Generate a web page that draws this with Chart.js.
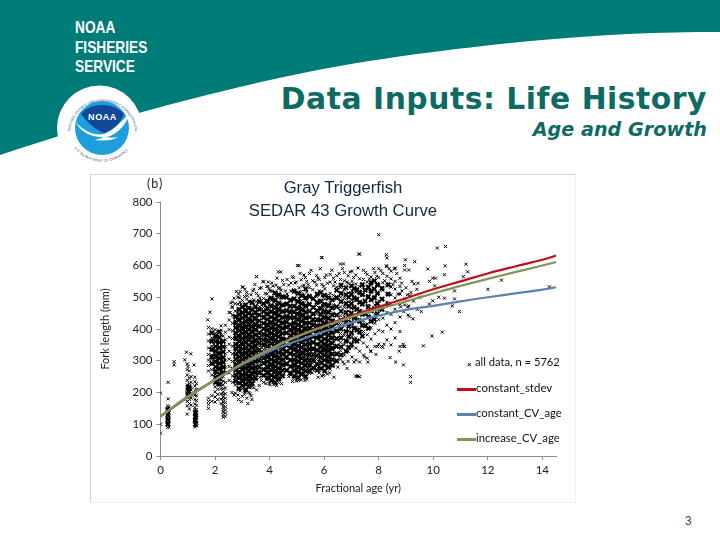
<!DOCTYPE html>
<html>
<head>
<meta charset="utf-8">
<title>Data Inputs: Life History</title>
<script src="https://cdn.jsdelivr.net/npm/chart.js@4"></script>
<style>
html, body { margin: 0; padding: 0; background: #fff; }
body { position: relative; width: 720px; height: 540px; overflow: hidden; font-family: "Liberation Sans", sans-serif; }
#banner { position: absolute; left: 0; top: 0; }
.abs { position: absolute; white-space: nowrap; }
.org { left: 75px; color: #fff; font: bold 16.5px/18px "Liberation Sans", sans-serif; transform: scaleX(0.83); transform-origin: left center; }
#panel { position: absolute; left: 90px; top: 174px; width: 486px; height: 329px; background: #fff; border-top: 1px solid #d4d4d4; border-left: 1px solid #d4d4d4; border-right: 1px solid #efefef; border-bottom: 1px solid #efefef; box-sizing: border-box; }
#myChart { position: absolute; left: 90px; top: 174px; }
.leg { font: 11.5px "Lato", sans-serif; color: #111; }
.swatch { position: absolute; left: 457px; width: 19px; height: 2.5px; }
</style>
</head>
<body>
<svg id="banner" width="720" height="175" viewBox="0 0 720 175">
  <path d="M0 0 H720 V32 C660 32 600 34 500 44 C420 53 350 62 270 80 C180 100 80 128 0 155 Z" fill="#007c78"/>
  <circle cx="99.5" cy="128" r="42.5" fill="#fff"/>
  <circle cx="102" cy="128" r="27" fill="#1e9fdc"/>
  <path d="M81 114 C90 102 114 102 124 114 C120 124 112 131 104 133 C96 130 87 122 81 114 Z" fill="#12479a"/>
  <path d="M76 122 C84 132 96 136 104 134 C112 131 122 122 129 113 C127 126 115 135 107 137 C110 138 114 138 118 137 C112 141 103 141 95 140 L104 137 C92 138 80 132 76 122 Z" fill="#fff"/>
  <text x="102.5" y="120" text-anchor="middle" font-family="Liberation Sans" font-weight="bold" font-size="9" fill="#fff" letter-spacing="0.6">NOAA</text>
  <defs>
    <path id="ringTop" d="M70 134 A32 32 0 1 1 135 134"/>
    <path id="ringBottom" d="M72 140 A33 33 0 0 0 132 140"/>
  </defs>
  <text font-family="Liberation Sans" font-size="3.4" fill="#34507a"><textPath href="#ringTop" startOffset="3%">NATIONAL OCEANIC AND ATMOSPHERIC ADMINISTRATION</textPath></text>
  <text font-family="Liberation Sans" font-size="3.4" fill="#34507a"><textPath href="#ringBottom" startOffset="10%" dominant-baseline="hanging">U.S. DEPARTMENT OF COMMERCE</textPath></text>
</svg>
<div class="abs org" style="top:18px">NOAA</div>
<div class="abs org" style="top:38px">FISHERIES</div>
<div class="abs org" style="top:57px">SERVICE</div>
<div class="abs" style="right:13px;top:81px;font:bold 29.8px 'DejaVu Sans',sans-serif;letter-spacing:0.52px;color:#0d6b63">Data Inputs: Life History</div>
<div class="abs" style="right:13px;top:118px;font:italic bold 19.2px 'DejaVu Sans',sans-serif;color:#0d6b63">Age and Growth</div>
<div id="panel"></div>
<canvas id="myChart" width="485" height="329"></canvas>
<div class="abs" style="left:147px;top:176px;font:12.5px 'Lato',sans-serif;letter-spacing:1px;color:#222">(b)</div>
<div class="abs" style="left:233px;width:220px;text-align:center;top:178px;font:16.7px 'Liberation Sans',sans-serif;color:#10293f">Gray Triggerfish</div>
<div class="abs" style="left:233px;width:220px;text-align:center;top:201px;font:16.7px 'Liberation Sans',sans-serif;color:#10293f">SEDAR 43 Growth Curve</div>
<div class="abs leg" style="left:475px;top:355px;font-size:11.2px">all data, n = 5762</div>
<div class="abs" style="left:467px;top:360px;font:bold 8px sans-serif;color:#111">×</div>
<div class="swatch" style="top:388px;background:#c00d1e"></div>
<div class="abs leg" style="left:476px;top:381px">constant_stdev</div>
<div class="swatch" style="top:413px;background:#5b82ae"></div>
<div class="abs leg" style="left:476px;top:406px;font-size:11.3px">constant_CV_age</div>
<div class="swatch" style="top:438px;background:#82955a"></div>
<div class="abs leg" style="left:476px;top:431px;font-size:11.3px">increase_CV_age</div>
<div class="abs" style="left:685px;top:514px;font:12px 'Liberation Sans',sans-serif;color:#445">3</div>

<script>
// tick labels
const xTicks = [0, 2, 4, 6, 8, 10, 12, 14];
const yTicks = [0, 100, 200, 300, 400, 500, 600, 700, 800];

// fitted curves
const curveAges = [0, 1, 2, 3, 4, 5, 6, 7, 8, 9, 10, 11, 12, 13, 14, 14.5];
const constantStdev = [125, 185, 240, 292, 337, 378, 410, 442, 470, 497, 525, 550, 575, 597, 618, 631];
const constantCvAge = [125, 188, 240, 288, 330, 362, 392, 420, 442, 460, 473, 487, 500, 512, 524, 531];
const increaseCvAge = [125, 186, 240, 291, 336, 376, 408, 438, 463, 487, 512, 536, 558, 579, 600, 611];

// the thick cloud, estimated column by column
const cloudAges = [
  0.26, 0.3, 0.98, 1.06, 1.12, 1.26, 1.32, 1.76, 1.88, 2.0, 2.1, 2.22, 2.3, 2.38, 2.52, 2.64,
  2.74, 2.84, 2.92, 3.0, 3.08, 3.16, 3.24, 3.32, 3.42, 3.52, 3.64, 3.78,
  3.9, 3.98, 4.08, 4.16, 4.24, 4.32, 4.42, 4.52, 4.64, 4.78,
  4.88, 4.98, 5.08, 5.16, 5.26, 5.36, 5.46, 5.58, 5.72,
  5.82, 5.92, 6.02, 6.12, 6.22, 6.34, 6.46, 6.6, 6.74, 6.88, 7.02, 7.16, 7.3, 7.44, 7.58, 7.72, 7.86, 8.0, 8.15, 8.3, 8.45, 8.6, 8.78
];
const cloudLengths = [
  [90, 98, 105, 112, 120, 127, 134, 142, 150, 158],
  [92, 101, 109, 118, 126, 136, 145, 155],
  [132, 158, 172, 185, 192, 198, 204, 210, 217, 224, 238, 255, 272, 290],
  [148, 165, 178, 190, 197, 205, 212, 220, 228, 245, 268],
  [160, 182, 195, 208, 216, 232, 250],
  [92, 100, 108, 116, 124, 131, 138, 144, 152, 164, 178, 192, 206, 220, 234, 248],
  [95, 104, 112, 121, 129, 136, 146, 160, 175, 190, 210, 228],
  [150, 162, 172, 182, 268, 285, 302, 320, 340, 362, 384, 405],
  [172, 190, 255, 272, 288, 304, 318, 332, 346, 358, 372, 388, 401],
  [170, 186, 202, 218, 232, 246, 258, 270, 282, 295, 308, 320, 333, 345, 358, 372, 386, 398],
  [178, 194, 210, 224, 238, 250, 262, 274, 286, 298, 311, 324, 337, 350, 363, 377, 392],
  [165, 180, 196, 212, 228, 240, 252, 264, 276, 288, 300, 312, 325, 338, 350, 364, 380, 396, 410],
  [122, 130, 138, 146, 154, 162, 170, 178, 186, 194, 202, 212, 224, 236, 250, 266, 282, 298, 312, 328, 344, 360, 378],
  [125, 135, 145, 155, 168, 182, 196, 214, 232, 262, 280, 302, 322, 344, 366, 390, 412],
  [238, 262, 282, 305, 330, 352, 374, 398, 428, 452],
  [232, 252, 276, 298, 322, 346, 370, 394, 418, 444, 470, 485],
  [198, 224, 246, 258, 270, 282, 294, 306, 318, 330, 342, 354, 366, 378, 390, 402, 414, 426, 440, 456, 480],
  [192, 214, 232, 248, 260, 272, 283, 295, 307, 319, 331, 343, 355, 367, 379, 391, 403, 415, 427, 441, 458, 478, 500],
  [205, 228, 244, 256, 267, 278, 290, 301, 313, 325, 337, 349, 360, 372, 384, 396, 408, 420, 432, 445, 462, 484, 518],
  [188, 212, 232, 246, 258, 269, 280, 291, 302, 314, 326, 337, 348, 360, 372, 384, 396, 408, 420, 434, 448, 466, 490, 532],
  [195, 220, 240, 254, 265, 276, 287, 298, 310, 322, 333, 345, 356, 368, 380, 392, 404, 416, 428, 440, 455, 474, 502],
  [182, 208, 230, 244, 256, 268, 279, 291, 303, 315, 327, 339, 351, 363, 375, 387, 399, 411, 423, 436, 450, 468, 494, 515],
  [200, 226, 242, 255, 266, 278, 290, 302, 314, 326, 338, 350, 362, 374, 386, 398, 410, 422, 434, 448, 464, 485],
  [190, 218, 238, 252, 263, 275, 287, 299, 311, 323, 335, 347, 359, 371, 383, 395, 407, 419, 431, 445, 462, 480, 508],
  [215, 236, 250, 262, 274, 286, 298, 310, 322, 334, 346, 358, 370, 382, 394, 406, 418, 432, 448, 468, 492, 525],
  [208, 240, 256, 270, 284, 298, 312, 326, 340, 354, 368, 382, 396, 410, 425, 442, 462, 486, 512, 565],
  [248, 268, 288, 306, 326, 346, 366, 384, 404, 424, 446, 470, 498, 528],
  [232, 256, 276, 296, 316, 336, 356, 376, 398, 420, 442, 468, 496, 548],
  [240, 258, 272, 285, 297, 309, 321, 333, 345, 357, 369, 381, 393, 405, 417, 430, 444, 460, 482, 510, 534],
  [228, 250, 265, 278, 290, 302, 314, 326, 338, 350, 362, 374, 386, 398, 410, 422, 436, 452, 472, 498, 525],
  [236, 254, 268, 280, 292, 304, 316, 328, 340, 352, 364, 376, 388, 400, 412, 424, 437, 451, 468, 490, 520, 545],
  [225, 248, 262, 275, 287, 299, 311, 323, 335, 347, 359, 371, 383, 395, 407, 419, 432, 446, 463, 486, 512],
  [242, 258, 271, 283, 295, 307, 319, 331, 343, 355, 367, 379, 391, 403, 415, 428, 442, 458, 478, 504, 538],
  [232, 252, 266, 279, 291, 303, 315, 327, 339, 351, 363, 375, 387, 399, 411, 424, 438, 454, 474, 500, 528, 580],
  [246, 262, 276, 289, 302, 315, 328, 341, 354, 367, 380, 393, 406, 420, 435, 452, 472, 496, 522],
  [258, 274, 290, 306, 322, 338, 354, 370, 386, 402, 418, 434, 452, 474, 500, 540],
  [268, 288, 306, 326, 346, 366, 388, 410, 432, 456, 482, 510, 556],
  [255, 282, 304, 326, 348, 370, 392, 414, 436, 460, 488, 520, 545],
  [245, 265, 280, 293, 306, 319, 332, 345, 358, 371, 384, 397, 410, 423, 437, 452, 470, 494, 524, 562],
  [236, 258, 274, 288, 301, 314, 327, 340, 353, 366, 379, 392, 405, 418, 432, 448, 466, 488, 516, 548],
  [250, 268, 282, 295, 308, 321, 334, 347, 360, 373, 386, 399, 412, 425, 439, 454, 472, 498, 530, 600],
  [240, 262, 278, 292, 305, 318, 331, 344, 357, 370, 383, 396, 409, 422, 436, 450, 468, 490, 518, 555],
  [254, 272, 286, 299, 312, 325, 338, 351, 364, 377, 390, 403, 416, 429, 444, 460, 480, 506, 538, 570],
  [242, 264, 280, 294, 308, 322, 336, 350, 364, 378, 392, 406, 420, 434, 450, 468, 490, 516, 550],
  [260, 278, 294, 310, 326, 342, 358, 374, 390, 406, 422, 438, 456, 476, 500, 530, 575],
  [272, 292, 312, 334, 356, 378, 400, 422, 444, 468, 494, 524, 552],
  [282, 304, 328, 352, 376, 400, 424, 448, 474, 502, 538, 568],
  [262, 282, 298, 312, 326, 340, 354, 368, 382, 396, 412, 428, 446, 466, 490, 520, 556],
  [252, 274, 292, 306, 320, 334, 348, 362, 376, 390, 404, 420, 436, 454, 476, 504, 540, 625],
  [268, 286, 300, 314, 328, 342, 356, 370, 384, 398, 414, 430, 448, 468, 494, 526, 562],
  [258, 278, 294, 310, 326, 342, 358, 374, 390, 406, 422, 438, 456, 478, 506, 544],
  [274, 292, 308, 324, 340, 356, 372, 388, 404, 420, 438, 458, 482, 512, 548, 572],
  [284, 302, 322, 342, 362, 384, 406, 428, 450, 476, 506, 536, 560],
  [296, 318, 342, 366, 392, 418, 444, 472, 502, 532, 568],
  [305, 332, 358, 386, 414, 442, 470, 500, 530, 556, 605],
  [290, 318, 350, 380, 410, 440, 468, 496, 524, 552, 578],
  [298, 330, 362, 394, 426, 456, 486, 514, 544, 568],
  [312, 344, 376, 408, 438, 466, 492, 520, 550, 582],
  [252, 302, 340, 372, 404, 434, 462, 490, 516, 542, 570],
  [296, 330, 366, 400, 430, 458, 484, 510, 534, 558, 636],
  [318, 356, 392, 426, 454, 482, 508, 532, 556, 585],
  [308, 344, 382, 416, 446, 474, 500, 524, 548, 572],
  [330, 368, 404, 436, 462, 490, 514, 538, 564],
  [345, 385, 418, 448, 476, 502, 526, 552, 578],
  [352, 396, 430, 460, 488, 512, 538, 562, 590],
  [342, 392, 434, 468, 496, 522, 546, 575],
  [366, 412, 452, 484, 512, 536, 566, 597],
  [350, 400, 446, 480, 508, 532, 558, 582],
  [372, 420, 462, 498, 526, 550, 592],
  [345, 392, 438, 478, 510, 534, 560]
];

// where the fish overlap so much the picture is solid black
const coreAges = [
  0.27, 1.04, 1.28, 1.88, 2.02, 2.16, 2.3, 2.76, 2.88, 3.0, 3.12, 3.24, 3.36, 3.48, 3.62, 3.78, 3.92, 4.06, 4.2, 4.34, 4.48, 4.62, 4.76,
  4.9, 5.04, 5.18, 5.32, 5.46, 5.6, 5.74, 5.88, 6.02, 6.16, 6.3, 6.46, 6.62, 6.8, 7.0, 7.2, 7.4, 7.62, 7.84,
  6.9, 7.1, 7.3, 7.5, 7.72, 7.95, 8.12, 8.35
];
const coreLengths = [
  [100, 114, 130, 146],
  [192, 204, 216],
  [100, 112, 124, 136],
  [292, 312, 336, 362, 388],
  [232, 248, 266, 281, 297, 314, 330, 345, 362, 378],
  [226, 243, 258, 275, 292, 308, 323, 341, 358, 374, 391],
  [262, 279, 295, 310, 328, 344, 361],
  [236, 254, 270, 287, 305, 320, 338, 352, 371, 387, 404, 420, 438],
  [212, 230, 247, 263, 281, 296, 313, 330, 345, 362, 378, 396, 411, 429, 446, 462],
  [222, 238, 255, 272, 288, 305, 321, 337, 353, 370, 386, 403, 418, 435, 452, 470],
  [208, 226, 243, 258, 276, 292, 309, 325, 340, 358, 374, 390, 407, 424, 441, 458, 476],
  [218, 236, 251, 268, 284, 300, 317, 333, 349, 366, 382, 399, 415, 431, 449, 466],
  [228, 244, 260, 277, 293, 310, 326, 342, 359, 375, 392, 408, 425, 443, 461, 484],
  [246, 264, 280, 298, 314, 331, 347, 364, 381, 398, 414, 433, 452, 471],
  [262, 280, 300, 316, 334, 356, 372, 389, 410, 426, 444, 462, 486],
  [254, 272, 292, 308, 326, 349, 366, 384, 401, 418, 436, 455, 480],
  [246, 263, 280, 297, 313, 330, 346, 363, 380, 396, 413, 430, 448, 466, 488],
  [238, 254, 271, 288, 304, 321, 337, 354, 370, 387, 403, 420, 437, 455, 474, 497],
  [232, 249, 266, 282, 299, 316, 332, 348, 365, 381, 398, 415, 432, 450, 469, 491, 514],
  [243, 260, 276, 293, 309, 326, 343, 359, 376, 392, 409, 426, 444, 462, 482, 508],
  [252, 270, 287, 303, 320, 336, 353, 369, 386, 403, 420, 437, 456, 476, 502],
  [270, 290, 312, 330, 348, 366, 388, 406, 422, 440, 458, 478, 500],
  [262, 282, 302, 322, 340, 358, 380, 398, 414, 436, 452, 472, 491],
  [252, 270, 286, 303, 319, 336, 353, 369, 386, 402, 419, 436, 454, 472, 495, 519],
  [246, 264, 280, 297, 314, 330, 347, 363, 380, 397, 413, 430, 447, 465, 486, 512],
  [258, 275, 292, 308, 325, 342, 358, 375, 391, 408, 425, 442, 460, 480, 505],
  [250, 268, 285, 301, 318, 334, 351, 368, 384, 401, 418, 435, 453, 473, 498, 526],
  [268, 286, 302, 319, 336, 352, 369, 385, 402, 419, 437, 456, 478, 503],
  [278, 302, 320, 338, 358, 376, 394, 412, 430, 448, 468, 496],
  [270, 290, 316, 334, 352, 372, 392, 410, 430, 458, 484, 510],
  [276, 294, 310, 327, 344, 360, 377, 393, 410, 428, 446, 465, 488, 515],
  [268, 285, 302, 318, 335, 351, 368, 385, 402, 419, 437, 456, 478, 506],
  [280, 298, 314, 331, 347, 364, 381, 398, 415, 433, 452, 473, 498],
  [286, 304, 321, 338, 355, 372, 389, 407, 425, 444, 466, 492],
  [300, 322, 346, 370, 394, 418, 444, 470, 498, 522],
  [318, 344, 372, 400, 428, 456, 486, 512, 538],
  [330, 362, 392, 422, 452, 480, 508, 530],
  [352, 388, 420, 450, 480, 510, 536],
  [362, 396, 428, 462, 494, 524],
  [378, 412, 446, 478, 508, 540],
  [402, 438, 470, 502, 532],
  [430, 464, 498, 526, 552],
  [342, 376, 408, 440, 472, 500],
  [366, 402, 436, 468, 498, 528],
  [390, 424, 456, 484, 516],
  [410, 448, 488, 522],
  [424, 458, 492, 520, 546],
  [448, 480, 512, 540],
  [462, 494, 528],
  [478, 510, 540]
];

// loose points round the edge of the cloud, age then length
const fringeAges = [
  2.55, 2.62, 2.68, 2.7, 2.86, 2.95, 3.1, 3.18, 3.27, 3.38, 3.46, 3.58, 3.7, 3.84, 3.95, 4.02, 4.12, 4.27, 4.38, 4.47,
  4.58, 4.7, 4.83, 4.93, 5.12, 5.21, 5.31, 5.41, 5.52, 5.66, 5.78, 5.86, 5.98, 6.08, 6.28, 6.4, 6.55, 6.67, 6.83, 6.95,
  7.08, 7.24, 7.36, 7.52, 7.66, 7.81, 7.93, 8.08, 8.22, 8.38, 8.52, 8.66, 8.7, 8.84, 8.97, 9.06, 9.14, 9.28, 9.42, 9.5,
  2.62, 2.7, 2.86, 2.97, 3.2, 3.35, 3.28, 3.1, 3.62, 3.7, 3.86, 4.02, 4.26, 4.44, 4.7, 4.84, 5.06, 5.3, 5.56, 5.78,
  5.98, 6.2, 6.36, 6.5, 6.68, 6.84, 7.1, 7.24, 7.3, 7.48, 7.7, 7.95, 8.2, 8.42, 8.62, 8.75, 8.9
];
const fringeLengths = [
  452, 468, 440, 497, 510, 478, 525, 505, 488, 520, 540, 505, 530, 512, 548, 520, 535, 560, 530, 553,
  520, 538, 565, 545, 575, 535, 562, 540, 585, 548, 560, 590, 535, 570, 585, 548, 575, 590, 548, 580,
  562, 592, 540, 578, 558, 590, 566, 584, 552, 590, 540, 575, 510, 545, 495, 470, 505, 488, 462, 500,
  200, 192, 178, 171, 165, 178, 196, 202, 222, 238, 228, 225, 222, 228, 250, 235, 238, 238, 262, 248,
  254, 262, 248, 280, 296, 276, 296, 252, 250, 312, 330, 345, 352, 310, 296, 330, 352
];

// single outliers, age then length
const strayAges = [
  0, 0, 0, 0.28, 0.28, 0.5, 0.5, 0.89, 0.95, 1.01, 1.11, 1.23, 1.73, 1.81, 1.89, 2.57, 2.78, 2.9, 3.03, 3.52,
  3.76, 3.94, 4.41, 5.02, 5.9, 6.71, 7.27, 8.0, 8.28, 8.3, 8.28, 8.58, 8.98, 9.32, 8.95, 8.95, 9.1, 9.8, 10.44, 11.2,
  11.26, 11.1, 10.08, 9.98, 9.86, 10.41, 9.44, 9.22, 10.05, 12.5, 12.0, 10.78, 14.26, 10.2, 10.41, 10.78, 9.98, 9.86, 10.7, 10.96,
  9.56, 9.07, 9.1, 8.95, 10.33, 9.95, 8.89, 8.95, 9.64, 8.91, 9.17, 9.17, 10.15, 10.45, 8.85, 9.0, 9.18, 9.3, 9.05, 9.4,
  8.8, 8.92, 9.12, 9.25, 7.6, 7.9, 8.1, 7.2
];
const strayLengths = [
  198, 100, 72, 232, 180, 297, 287, 303, 327, 282, 322, 287, 429, 453, 495, 482, 518, 498, 532, 565,
  550, 534, 580, 600, 625, 605, 636, 697, 634, 624, 599, 589, 618, 612, 600, 586, 586, 589, 599, 604,
  580, 565, 560, 560, 550, 571, 544, 550, 536, 554, 525, 520, 533, 500, 497, 495, 489, 479, 473, 455,
  455, 444, 473, 476, 390, 378, 345, 345, 347, 287, 250, 232, 655, 660, 520, 530, 515, 542, 508, 525,
  470, 455, 440, 432, 296, 320, 345, 250
];

const columns = (ages, lengths) => ages.flatMap((age, i) => lengths[i].map(len => ({ x: age, y: len })));
const pairs = (ages, lengths) => ages.map((age, i) => ({ x: age, y: lengths[i] }));

const allData = [
  ...columns(cloudAges, cloudLengths),
  ...pairs(fringeAges, fringeLengths),
  ...pairs(strayAges, strayLengths)
];

const lineStyle = {
  showLine: true,
  pointRadius: 0,
  borderWidth: 2.2,
  tension: 0.4,
  backgroundColor: 'transparent'
};

const ctx = document.getElementById('myChart').getContext('2d');
const myChart = new Chart(ctx, {
  type: 'scatter',
  data: {
    datasets: [
      { label: 'constant_stdev', data: pairs(curveAges, constantStdev), borderColor: '#c00d1e', order: 3, ...lineStyle },
      { label: 'increase_CV_age', data: pairs(curveAges, increaseCvAge), borderColor: '#82955a', order: 1, ...lineStyle },
      { label: 'constant_CV_age', data: pairs(curveAges, constantCvAge), borderColor: '#5b82ae', order: 2, ...lineStyle },
      {
        label: 'all data, n = 5762',
        data: allData,
        order: 4,
        pointStyle: 'crossRot',
        pointRadius: 2.2,
        pointBorderWidth: 1,
        pointBorderColor: '#000',
        showLine: false
      },
      {
        label: 'core',
        data: columns(coreAges, coreLengths),
        order: 5,
        pointStyle: 'crossRot',
        pointRadius: 3,
        pointBorderWidth: 2,
        pointBorderColor: '#000',
        showLine: false
      }
    ]
  },
  options: {
    responsive: false,
    animation: false,
    layout: { padding: { left: 9, right: 19, top: 28, bottom: 8 } },
    scales: {
      x: {
        type: 'linear',
        min: 0,
        max: 14.5,
        afterFit: s => { s.height = 39; },
        afterBuildTicks: s => { s.ticks = xTicks.map(v => ({ value: v })); },
        grid: { drawOnChartArea: false, color: '#8c8c8c', tickLength: 4 },
        border: { color: '#8c8c8c', width: 1 },
        ticks: { color: '#222', font: { family: 'Lato', size: 11.5 }, maxRotation: 0, padding: 3 },
        title: { display: true, text: 'Fractional age (yr)', color: '#222', font: { family: 'Lato', size: 11 }, padding: { top: 2, bottom: 0 } }
      },
      y: {
        min: 0,
        max: 800,
        afterFit: s => { s.width = 61.5; },
        afterBuildTicks: s => { s.ticks = yTicks.map(v => ({ value: v })); },
        grid: { drawOnChartArea: false, color: '#8c8c8c', tickLength: 4 },
        border: { color: '#8c8c8c', width: 1 },
        ticks: { color: '#222', font: { family: 'Lato', size: 11.5 }, padding: 4 },
        title: { display: true, text: 'Fork length (mm)', color: '#222', font: { family: 'Lato', size: 11 }, padding: { top: 0, bottom: 0 } }
      }
    },
    plugins: {
      legend: { display: false },
      title: { display: false },
      tooltip: { enabled: false }
    }
  }
});
</script>
</body>
</html>
